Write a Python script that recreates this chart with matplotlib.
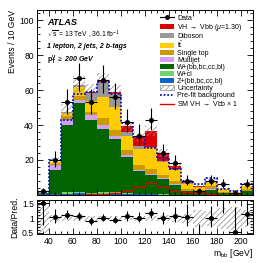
import numpy as np
import matplotlib
matplotlib.use("Agg")
import matplotlib.pyplot as plt
from matplotlib.patches import Patch
from matplotlib.lines import Line2D
from matplotlib.ticker import MultipleLocator

plt.rcParams['font.family'] = ['Liberation Sans', 'DejaVu Sans']
plt.rcParams['mathtext.fontset'] = 'custom'
plt.rcParams['mathtext.rm'] = 'Liberation Sans'
plt.rcParams['mathtext.it'] = 'Liberation Sans:italic'
plt.rcParams['mathtext.bf'] = 'Liberation Sans:bold'
plt.rcParams['hatch.linewidth'] = 0.5
plt.rcParams['hatch.color'] = '#888888'

# binning (m_bb, 10 GeV bins)
edges = np.arange(30, 211, 10)
centers = 0.5 * (edges[:-1] + edges[1:])

# post-fit stack components, bottom to top
zhf      = [0.3, 0.3, 0.5, 1.0, 0.5, 0.5, 0.4, 0.3, 0.3, 0.3, 0.2, 0.1, 0.1, 0.1, 0.1, 0.1, 0.05, 0.1]
wcl      = [0.1, 0.4, 1.2, 0.8, 0.6, 1.0, 1.2, 0.5, 0.3, 0.3, 0.2, 0.1, 0.1, 0.1, 0.1, 0.1, 0.05, 0.1]
whf      = [0.6, 13.8, 38.5, 51.0, 42.0, 36.5, 30.5, 21.0, 13.0, 11.0, 8.5, 5.5, 2.0, 1.5, 2.8, 1.0, 0.6, 2.0]
multijet = [0.1, 2.5, 3.0, 1.5, 2.5, 2.0, 1.5, 1.0, 0.8, 0.5, 0.5, 0.5, 0.3, 0.2, 0.4, 0.1, 0.05, 0.2]
stop     = [0.1, 0.8, 2.0, 2.5, 2.0, 4.0, 3.5, 3.0, 3.0, 2.5, 2.0, 1.5, 1.0, 0.8, 1.5, 0.6, 0.3, 1.0]
ttbar    = [0.1, 1.0, 2.0, 5.0, 6.5, 12.0, 13.5, 8.0, 9.0, 12.0, 7.5, 6.5, 3.0, 1.8, 2.8, 1.2, 0.8, 1.8]
diboson  = [0.0, 0.3, 0.3, 1.0, 4.5, 8.5, 7.5, 2.5, 1.5, 1.0, 0.5, 0.5, 0.3, 0.2, 0.2, 0.2, 0.05, 0.1]
signal   = [0.0, 0.0, 0.1, 0.2, 0.3, 0.6, 0.9, 3.0, 5.5, 9.0, 4.5, 1.8, 0.8, 0.3, 0.1, 0.1, 0.0, 0.0]

data     = [2, 20, 53, 67, 53, 66, 56, 42, 34, 43, 24, 18, 8, 2, 8, 6, 1, 6]
prefit   = [1.6, 20, 43, 58, 59, 64.5, 58, 41, 33, 27, 21, 15, 8, 6.5, 9.5, 3.5, 2.2, 6]
sm_vh    = [0.0, 0.0, 0.1, 0.2, 0.3, 0.5, 0.8, 2.5, 4.5, 7.0, 4.5, 2.0, 1.5, 1.0, 0.3, 0.2, 0.1, 0.1]
rel_unc  = [0.5, 0.12, 0.1, 0.08, 0.08, 0.07, 0.07, 0.07, 0.08, 0.08, 0.1, 0.12, 0.15, 0.3, 0.25, 0.35, 0.4, 0.3]

components = [
    (zhf, '#0a64c8', 'Z+(bb,bc,cc,bl)'),
    (wcl, '#6fd36f', 'W+cl'),
    (whf, '#006400', 'W+(bb,bc,cc,bl)'),
    (multijet, '#d39ef5', 'Multijet'),
    (stop, '#cc9a00', 'Single top'),
    (ttbar, '#ffcc00', r't$\bar{\rm t}$'),
    (diboson, '#999999', 'Diboson'),
    (signal, '#dd0000', r'VH $\rightarrow$ Vbb ($\mu$=1.30)'),
]

fig = plt.figure(figsize=(2.74, 2.63), dpi=100)
ax = fig.add_axes([0.134, 0.259, 0.789, 0.703])
rx = fig.add_axes([0.134, 0.110, 0.789, 0.130])

fs = 6.2
bottom = np.zeros(len(centers))
for vals, col, lab in components:
    vals = np.array(vals, dtype=float)
    ax.bar(centers, vals, width=10, bottom=bottom, color=col, linewidth=0)
    bottom = bottom + vals
total = bottom

unc = total * np.array(rel_unc)
ax.bar(centers, 2 * unc, width=10, bottom=total - unc, fill=False,
       hatch='//////', edgecolor='#888888', linewidth=0)
ax.stairs(prefit, edges, color='#1010c0', linestyle=(0, (1, 1)), linewidth=1.3)
ax.stairs(sm_vh, edges, color='#dd0000', linewidth=1.0)

d = np.array(data, dtype=float)
err_up = 0.5 + np.sqrt(d + 0.25)
err_dn = -0.5 + np.sqrt(d + 0.25)
ax.errorbar(centers, d, xerr=5, yerr=[err_dn, err_up], fmt='o', ms=2.6,
            color='black', elinewidth=0.8, capsize=0)

ax.set_xlim(30, 210)
ax.set_ylim(0, 106)
ax.set_xticklabels([])
ax.yaxis.set_major_locator(MultipleLocator(20))
ax.yaxis.set_minor_locator(MultipleLocator(4))
ax.set_yticks([20, 40, 60, 80, 100])
ax.set_ylabel('Events / 10 GeV', fontsize=fs, loc='top', labelpad=2)

# ratio panel
ratio = d / total
rx.bar(centers, 2 * np.array(rel_unc), width=10, bottom=1 - np.array(rel_unc),
       fill=False, hatch='//////', edgecolor='#888888', linewidth=0)
rx.errorbar(centers, ratio, xerr=5, yerr=[err_dn / total, err_up / total],
            fmt='o', ms=2.6, color='black', elinewidth=0.8, capsize=0)
rx.set_xlim(30, 210)
rx.set_ylim(0.46, 1.63)
rx.set_yticks([0.5, 1, 1.5])
rx.set_yticklabels(['0.5', '1', '1.5'])
rx.yaxis.set_minor_locator(MultipleLocator(0.1))
rx.set_ylabel('Data/Pred.', fontsize=fs, labelpad=2)
rx.set_xlabel(r'm$_{\rm bb}$ [GeV]', fontsize=fs, loc='right', labelpad=1)

for a in (ax, rx):
    a.xaxis.set_major_locator(MultipleLocator(20))
    a.xaxis.set_minor_locator(MultipleLocator(5))
    a.tick_params(which='both', direction='in', top=True, right=True,
                  labelsize=fs, width=0.6, pad=2)
    a.tick_params(which='major', length=4)
    a.tick_params(which='minor', length=2)
    for s in a.spines.values():
        s.set_linewidth(0.7)
rx.set_xticks([40, 60, 80, 100, 120, 140, 160, 180, 200])

# labels
ax.text(0.048, 0.93, 'ATLAS', transform=ax.transAxes, fontsize=6.6,
        fontweight='bold', fontstyle='italic', va='center')
ax.text(0.048, 0.865, r'$\sqrt{\rm s}$ = 13 TeV , 36.1 fb$^{-1}$', transform=ax.transAxes,
        fontsize=4.9, va='center')
ax.text(0.048, 0.80, '1 lepton, 2 jets, 2 b-tags', transform=ax.transAxes,
        fontsize=5.0, fontstyle='italic', fontweight='bold', va='center')
ax.text(0.048, 0.73, r'$\mathbf{p_{T}^{V}}$ $\geq$ 200 GeV', transform=ax.transAxes,
        fontsize=5.0, fontstyle='italic', fontweight='bold', va='center')

# legend
handles = [Line2D([0], [0], color='black', marker='o', ms=2.5, lw=0.8)]
labels = ['Data']
for vals, col, lab in components[::-1]:
    handles.append(Patch(facecolor=col, edgecolor='none'))
    labels.append(lab)
handles.append(Patch(facecolor='white', hatch='//////', edgecolor='#888888', linewidth=0.5))
labels.append('Uncertainty')
handles.append(Line2D([0], [0], color='#1010c0', linestyle=(0, (1, 1)), lw=1.3))
labels.append('Pre-fit background')
handles.append(Line2D([0], [0], color='#dd0000', lw=1.0))
labels.append(r'SM VH $\rightarrow$ Vbb $\times$ 1')
ax.legend(handles, labels, loc='upper left', bbox_to_anchor=(0.55, 1.0),
          frameon=False, fontsize=5.0, handlelength=2.0, handleheight=0.7,
          handletextpad=0.4, labelspacing=0.0, borderaxespad=0.3)

fig.savefig('out.png', dpi=100)
